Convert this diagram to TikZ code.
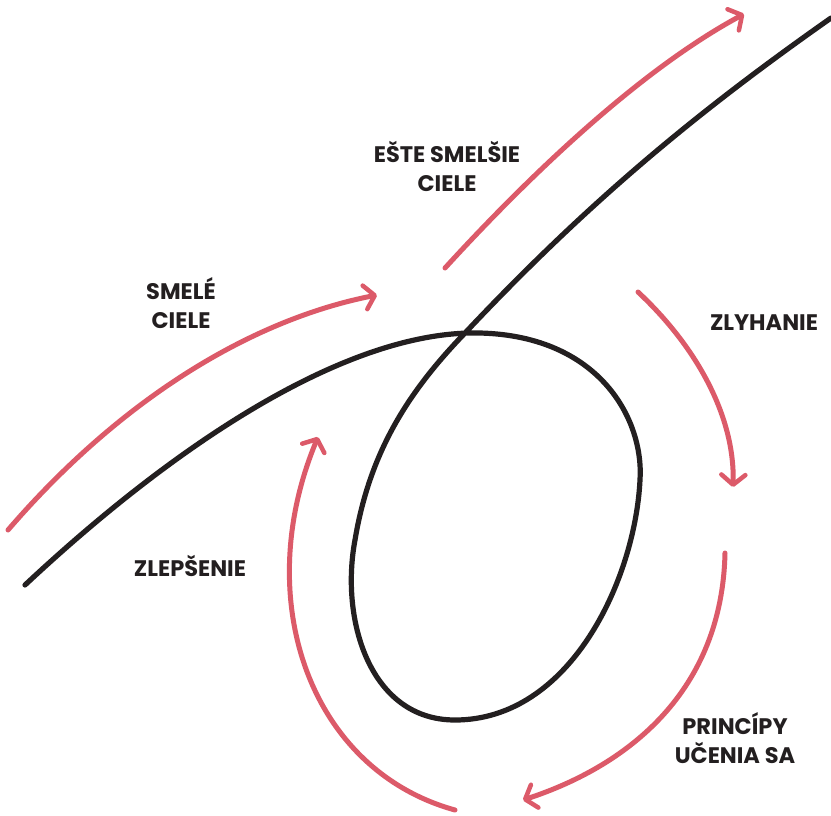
\documentclass[tikz,border=0pt]{standalone}
\usepackage{fontspec}
\setmainfont{Poppins}
\usetikzlibrary{arrows.meta}
\definecolor{redc}{HTML}{DC5A69}
\definecolor{blk}{HTML}{231F20}
\tikzset{
  blackline/.style={draw=blk, line width=5.2pt, line cap=round},
  redarrow/.style={draw=redc, line width=5pt, line cap=round, -{Straight Barb[length=10pt,width=24pt,line width=4.5pt,round]}},
  lbl/.style={font=\bfseries\fontsize{22.5}{29}\selectfont, text=blk, align=center, inner sep=0pt}
}
\begin{document}
\begin{tikzpicture}[x=1pt,y=-1pt]
\useasboundingbox (0,0) rectangle (831,815);
\fill[white] (0,0) rectangle (831,815);
% black loop curve
\coordinate (b0) at (25,585);
\coordinate (b1) at (480,333);
\coordinate (b2) at (640,480);
\coordinate (b3) at (455,720);
\coordinate (b4) at (355,540);
\coordinate (b5) at (465,333);
\coordinate (b6) at (831,18);
\draw[blackline] (b0) .. controls (180,440) and (350,330) .. (b1)
  .. controls (600,336) and (644,420) .. (b2)
  .. controls (635,580) and (570,720) .. (b3)
  .. controls (370,720) and (340,620) .. (b4)
  .. controls (370,450) and (410,390) .. (b5)
  .. controls (590,200) and (700,110) .. (b6);
% red arrows
\coordinate (s0) at (8,530);   \coordinate (s1) at (377,295);
\coordinate (e0) at (445,268); \coordinate (e1) at (744,14);
\coordinate (z0) at (638,292); \coordinate (z1) at (733,487);
\coordinate (p0) at (725,553); \coordinate (p1) at (523,800);
\coordinate (l0) at (455,810); \coordinate (l1) at (318,437);
\draw[redarrow] (s0) .. controls (120,400) and (250,320) .. (s1);
\draw[redarrow] (e0) .. controls (530,175) and (640,70) .. (e1);
\draw[redarrow] (z0) .. controls (700,350) and (735,420) .. (z1);
\draw[redarrow] (p0) .. controls (722,690) and (630,765) .. (p1);
\draw[redarrow] (l0) .. controls (310,770) and (250,600) .. (l1);
% labels
\node[lbl] (smele) at (181,303) {SMELÉ\\CIELE};
\node[lbl] (este) at (447,166) {EŠTE SMELŠIE\\CIELE};
\node[lbl] (zlyh) at (764,323) {ZLYHANIE};
\node[lbl] (zlep) at (190,566) {ZLEPŠENIE};
\node[lbl] (princ) at (735,738) {PRINCÍPY\\UČENIA SA};
\end{tikzpicture}
\end{document}
